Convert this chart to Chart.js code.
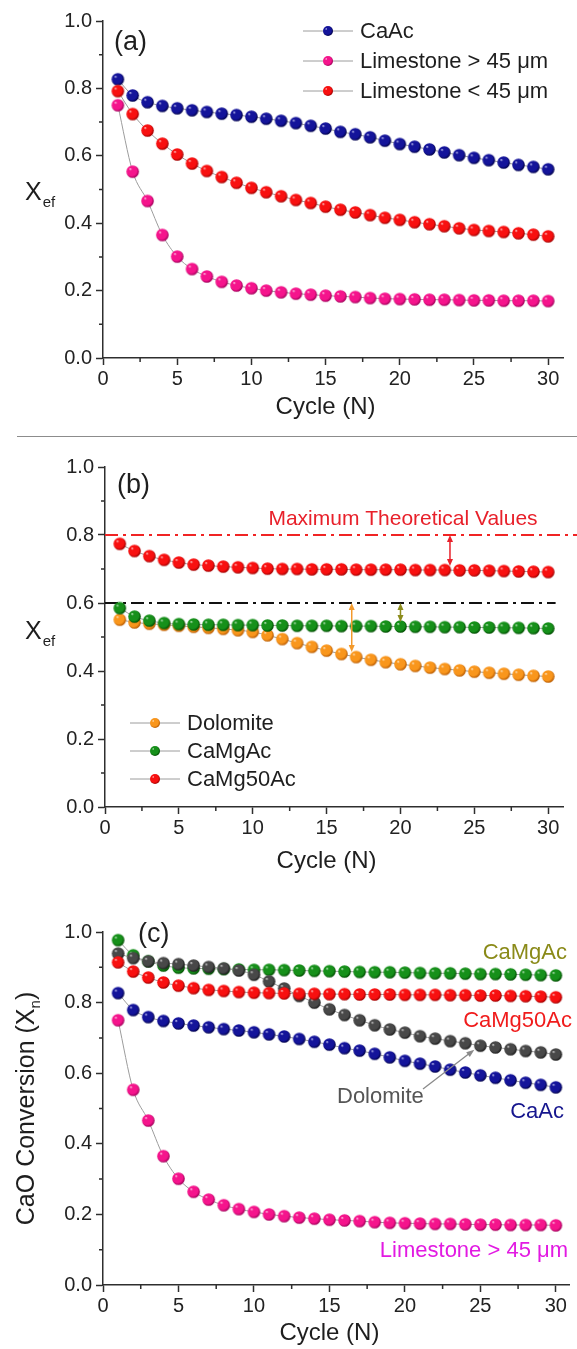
<!DOCTYPE html>
<html lang="en">
<head>
<meta charset="UTF-8">
<title>CaO conversion vs cycle number</title>
<script src="https://cdn.jsdelivr.net/npm/chart.js"></script>
<style>
  body { margin: 0; background: #fff; }
  #page { position: relative; width: 577px; height: 1349px; overflow: hidden; }
  .panel { position: absolute; left: 0; width: 577px; }
  .sep { position: absolute; left: 17px; right: 0; top: 436px; border-top: 1.5px solid #8c8c8c; }
</style>
</head>
<body>
<div id="page">
  <div class="panel" style="top:0;height:436px"><canvas id="chartA"></canvas></div>
  <div class="sep"></div>
  <div class="panel" style="top:437px;height:450px"><canvas id="chartB"></canvas></div>
  <div class="panel" style="top:887px;height:462px"><canvas id="chartC"></canvas></div>
</div>

<script>
// ---- data ----
const cycles = [1, 2, 3, 4, 5, 6, 7, 8, 9, 10, 11, 12, 13, 14, 15,
                16, 17, 18, 19, 20, 21, 22, 23, 24, 25, 26, 27, 28, 29, 30];

// panel (a) and (c): same curves
const caAc = [0.827, 0.779, 0.759, 0.748, 0.741, 0.735, 0.730, 0.725, 0.721, 0.716,
              0.710, 0.704, 0.697, 0.689, 0.681, 0.671, 0.664, 0.655, 0.645, 0.635,
              0.627, 0.619, 0.610, 0.602, 0.594, 0.587, 0.580, 0.573, 0.567, 0.560];
const limestoneCoarse = [0.750, 0.553, 0.466, 0.365, 0.301, 0.264, 0.242, 0.226, 0.215, 0.207,
                         0.200, 0.195, 0.191, 0.188, 0.185, 0.183, 0.181, 0.178, 0.176, 0.175,
                         0.174, 0.173, 0.173, 0.172, 0.171, 0.171, 0.170, 0.170, 0.170, 0.169];
const limestoneFine = [0.792, 0.724, 0.675, 0.636, 0.604, 0.577, 0.555, 0.537, 0.520, 0.505,
                       0.492, 0.480, 0.469, 0.460, 0.449, 0.440, 0.432, 0.424, 0.416, 0.410,
                       0.403, 0.397, 0.391, 0.385, 0.380, 0.377, 0.374, 0.370, 0.366, 0.361];

// panel (b): effective conversion Xef
const dolomiteEf = [0.551, 0.543, 0.539, 0.536, 0.533, 0.530, 0.527, 0.524, 0.520, 0.515,
                    0.505, 0.494, 0.482, 0.471, 0.460, 0.450, 0.441, 0.433, 0.426, 0.420,
                    0.415, 0.410, 0.406, 0.402, 0.398, 0.395, 0.392, 0.389, 0.386, 0.384];
const caMgAcEf = [0.585, 0.560, 0.548, 0.541, 0.538, 0.537, 0.536, 0.536, 0.535, 0.535,
                  0.534, 0.534, 0.533, 0.533, 0.533, 0.532, 0.532, 0.532, 0.531, 0.531,
                  0.530, 0.530, 0.529, 0.529, 0.528, 0.528, 0.527, 0.527, 0.526, 0.525];
const caMg50AcEf = [0.774, 0.753, 0.738, 0.727, 0.719, 0.713, 0.710, 0.707, 0.705, 0.703,
                    0.701, 0.700, 0.700, 0.699, 0.699, 0.699, 0.698, 0.698, 0.698, 0.698,
                    0.697, 0.697, 0.697, 0.696, 0.696, 0.695, 0.694, 0.693, 0.692, 0.691];
const theoreticalMax = [0.8, 0.6];          // CaMg50Ac, CaMgAc/dolomite
const theoreticalSpan = [[0, 32], [0, 30.5]];
// double arrows: cycle position, upper value, lower value
const gapArrowX = [23.35, 16.7, 20.0];
const gapArrowTop = [0.8, 0.6, 0.6];
const gapArrowBottom = [0.709, 0.456, 0.544];

// panel (c): CaO conversion Xn
const dolomiteXn = [0.939, 0.926, 0.917, 0.912, 0.909, 0.905, 0.901, 0.897, 0.891, 0.879,
                    0.860, 0.840, 0.819, 0.800, 0.781, 0.765, 0.750, 0.736, 0.724, 0.715,
                    0.705, 0.698, 0.691, 0.685, 0.678, 0.673, 0.668, 0.663, 0.659, 0.653];
const caMgAcXn = [0.977, 0.934, 0.917, 0.905, 0.899, 0.897, 0.896, 0.895, 0.894, 0.893,
                  0.893, 0.892, 0.891, 0.890, 0.889, 0.888, 0.887, 0.886, 0.886, 0.885,
                  0.884, 0.883, 0.883, 0.882, 0.881, 0.881, 0.880, 0.879, 0.878, 0.877];
const caMg50AcXn = [0.914, 0.888, 0.871, 0.857, 0.848, 0.841, 0.836, 0.833, 0.830, 0.828,
                    0.827, 0.826, 0.825, 0.825, 0.824, 0.824, 0.823, 0.823, 0.823, 0.822,
                    0.822, 0.822, 0.821, 0.821, 0.820, 0.820, 0.819, 0.818, 0.817, 0.815];

const xTicks = [0, 5, 10, 15, 20, 25, 30];
const xMinorTicks = [2.5, 7.5, 12.5, 17.5, 22.5, 27.5];
const yTicks = [0, 0.2, 0.4, 0.6, 0.8, 1.0];
const yMinorTicks = [0.1, 0.3, 0.5, 0.7, 0.9];

// ---- styling ----
const FONT = '"Liberation Sans", Arial, sans-serif';
Chart.defaults.font.family = FONT;
const AXIS = '#2e2e2e';

// shaded sphere used as point style
function makeBall(light, base, dark, r) {
  const c = document.createElement('canvas');
  const s = Math.ceil(r * 2 + 2);
  c.width = s; c.height = s;
  const g = c.getContext('2d');
  const m = s / 2;
  const grad = g.createRadialGradient(m - r * 0.4, m - r * 0.45, 0, m - r * 0.1, m - r * 0.1, r * 1.1);
  grad.addColorStop(0, light);
  grad.addColorStop(0.22, base);
  grad.addColorStop(0.75, base);
  grad.addColorStop(1, dark);
  g.fillStyle = grad;
  g.beginPath();
  g.arc(m, m, r, 0, Math.PI * 2);
  g.fill();
  return c;
}

const palette = {
  navy:   ['#d8d8ff', '#14149a', '#00004a'],
  pink:   ['#ffe0f0', '#f5148c', '#a0005a'],
  red:    ['#ffe0e0', '#f81010', '#a00000'],
  orange: ['#fff0d8', '#f9961c', '#b85a00'],
  green:  ['#d8f4d8', '#16901a', '#004c00'],
  gray:   ['#e6e6e6', '#484848', '#1a1a1a']
};
const ball = {}, smallBall = {};
for (const k in palette) {
  ball[k] = makeBall(...palette[k], 6.3);
  smallBall[k] = makeBall(...palette[k], 5);
}

function series(label, values, b, order) {
  return {
    label: label,
    data: values.map((v, i) => ({ x: cycles[i], y: v })),
    pointStyle: b,
    pointRadius: 6.3,
    borderColor: '#9c9c9c',
    borderWidth: 1,
    cubicInterpolationMode: 'monotone',
    order: order,
    clip: false
  };
}

function baseOptions(p) {
  return {
    responsive: true,
    maintainAspectRatio: false,
    animation: false,
    layout: { padding: { left: 0, right: p.padRight, top: p.padTop, bottom: 0 } },
    plugins: { legend: { display: false }, tooltip: { enabled: false } },
    scales: {
      x: {
        type: 'linear', min: 0, max: p.xMax,
        afterFit: s => { s.height = p.xAxisH; },
        afterBuildTicks: s => { s.ticks = xTicks.map(v => ({ value: v })); },
        ticks: { color: '#222', font: { size: 20 }, padding: 2, maxRotation: 0, callback: v => String(v) },
        grid: { drawOnChartArea: false, drawTicks: true, tickLength: 7, tickColor: AXIS, tickWidth: 1.5 },
        border: { color: AXIS, width: 1.5 }
      },
      y: {
        min: 0, max: 1,
        afterFit: s => { s.width = p.yAxisW; },
        afterBuildTicks: s => { s.ticks = yTicks.map(v => ({ value: v })); },
        ticks: { color: '#222', font: { size: 20 }, padding: 4, callback: v => v.toFixed(1) },
        grid: { drawOnChartArea: false, drawTicks: true, tickLength: 7, tickColor: AXIS, tickWidth: 1.5 },
        border: { color: AXIS, width: 1.5 }
      }
    }
  };
}

// minor ticks, axis titles, panel letter
function decorPlugin(p) {
  return {
    id: 'decor',
    afterDraw(chart) {
      const ctx = chart.ctx, xs = chart.scales.x, ys = chart.scales.y, a = chart.chartArea;
      ctx.save();
      ctx.strokeStyle = AXIS; ctx.lineWidth = 1.5;
      ctx.beginPath();
      xMinorTicks.forEach(v => { const px = xs.getPixelForValue(v); ctx.moveTo(px, a.bottom); ctx.lineTo(px, a.bottom + 4); });
      yMinorTicks.forEach(v => { const py = ys.getPixelForValue(v); ctx.moveTo(a.left, py); ctx.lineTo(a.left - 4, py); });
      ctx.stroke();

      ctx.fillStyle = '#1e1e1e';
      ctx.textAlign = 'center'; ctx.textBaseline = 'middle';
      ctx.font = '24px ' + FONT;
      ctx.fillText('Cycle (N)', xs.getPixelForValue(15), a.bottom + p.xTitleOff);

      ctx.textAlign = 'left'; ctx.textBaseline = 'alphabetic';
      ctx.font = '27px ' + FONT;
      ctx.fillText(p.letter, p.letterX, p.letterY);

      if (p.yTitle === 'ef') {
        ctx.font = '25px ' + FONT;
        ctx.fillText('X', 25, p.yTitleBase);
        const w = ctx.measureText('X').width;
        ctx.font = '15px ' + FONT;
        ctx.fillText('ef', 25 + w + 1, p.yTitleBase + 7);
      } else {
        ctx.translate(25, (a.top + a.bottom) / 2);
        ctx.rotate(-Math.PI / 2);
        ctx.font = '25px ' + FONT;
        const t1 = 'CaO Conversion (X', t3 = ')';
        const w1 = ctx.measureText(t1).width, w3 = ctx.measureText(t3).width;
        ctx.font = '15px ' + FONT;
        const w2 = ctx.measureText('n').width;
        const x0 = -(w1 + w2 + w3) / 2;
        const base = 9;
        ctx.font = '25px ' + FONT;
        ctx.fillText(t1, x0, base);
        ctx.font = '15px ' + FONT;
        ctx.fillText('n', x0 + w1, base + 6);
        ctx.font = '25px ' + FONT;
        ctx.fillText(t3, x0 + w1 + w2, base);
      }
      ctx.restore();
    }
  };
}

function legendPlugin(items, x0, rowsY) {
  return {
    id: 'legendBox',
    afterDraw(chart) {
      const ctx = chart.ctx;
      ctx.save();
      items.forEach((it, i) => {
        const y = rowsY[i];
        ctx.strokeStyle = '#9c9c9c'; ctx.lineWidth = 1;
        ctx.beginPath(); ctx.moveTo(x0, y); ctx.lineTo(x0 + 50, y); ctx.stroke();
        ctx.drawImage(it.ball, x0 + 25 - it.ball.width / 2, y - it.ball.height / 2);
        ctx.fillStyle = '#1e1e1e';
        ctx.font = '22px ' + FONT;
        ctx.textAlign = 'left'; ctx.textBaseline = 'middle';
        ctx.fillText(it.label, x0 + 57, y + 1);
      });
      ctx.restore();
    }
  };
}

// ---- panel (a) ----
const pA = { padTop: 21, xAxisH: 78, yAxisW: 103, padRight: 14, xMax: 31,
             xTitleOff: 49, letter: '(a)', letterX: 114, letterY: 50, yTitle: 'ef', yTitleBase: 200 };
new Chart(document.getElementById('chartA'), {
  type: 'line',
  data: { datasets: [
    series('CaAc', caAc, ball.navy, 2),
    series('Limestone > 45 \u03bcm', limestoneCoarse, ball.pink, 3),
    series('Limestone < 45 \u03bcm', limestoneFine, ball.red, 1)
  ] },
  options: baseOptions(pA),
  plugins: [decorPlugin(pA), legendPlugin([
    { label: 'CaAc', ball: smallBall.navy },
    { label: 'Limestone > 45 \u03bcm', ball: smallBall.pink },
    { label: 'Limestone < 45 \u03bcm', ball: smallBall.red }
  ], 303, [31, 61, 91])]
});

// ---- panel (b) ----
const pB = { padTop: 30, xAxisH: 80, yAxisW: 105, padRight: 14, xMax: 31,
             xTitleOff: 54, letter: '(b)', letterX: 117, letterY: 56, yTitle: 'ef', yTitleBase: 202 };

const gapArrows = {
  id: 'gapArrows',
  afterDatasetsDraw(chart) {
    const ctx = chart.ctx, xs = chart.scales.x, ys = chart.scales.y;
    const colors = ['#e8202a', '#f39a2c', '#8c8c1c'];
    ctx.save();
    gapArrowX.forEach((xv, i) => {
      const px = xs.getPixelForValue(xv);
      const y1 = ys.getPixelForValue(gapArrowTop[i]), y2 = ys.getPixelForValue(gapArrowBottom[i]);
      ctx.strokeStyle = colors[i]; ctx.fillStyle = colors[i]; ctx.lineWidth = 1.5;
      ctx.beginPath(); ctx.moveTo(px, y1 + 5); ctx.lineTo(px, y2 - 5); ctx.stroke();
      ctx.beginPath(); ctx.moveTo(px, y1); ctx.lineTo(px - 3, y1 + 7); ctx.lineTo(px + 3, y1 + 7); ctx.closePath(); ctx.fill();
      ctx.beginPath(); ctx.moveTo(px, y2); ctx.lineTo(px - 3, y2 - 7); ctx.lineTo(px + 3, y2 - 7); ctx.closePath(); ctx.fill();
    });
    ctx.fillStyle = '#e8202a';
    ctx.font = '21px ' + FONT;
    ctx.textAlign = 'center'; ctx.textBaseline = 'middle';
    ctx.fillText('Maximum Theoretical Values', 403, ys.getPixelForValue(theoreticalMax[0]) - 16);
    ctx.restore();
  }
};

function refLine(value, span, color) {
  return {
    label: 'ref', data: [{ x: span[0], y: value }, { x: span[1], y: value }],
    borderColor: color, borderWidth: 2, borderDash: [13, 5, 3, 5],
    pointRadius: 0, order: 10, clip: false
  };
}

new Chart(document.getElementById('chartB'), {
  type: 'line',
  data: { datasets: [
    refLine(theoreticalMax[0], theoreticalSpan[0], '#f02424'),
    refLine(theoreticalMax[1], theoreticalSpan[1], '#111111'),
    series('Dolomite', dolomiteEf, ball.orange, 3),
    series('CaMgAc', caMgAcEf, ball.green, 2),
    series('CaMg50Ac', caMg50AcEf, ball.red, 1)
  ] },
  options: baseOptions(pB),
  plugins: [decorPlugin(pB), gapArrows, legendPlugin([
    { label: 'Dolomite', ball: smallBall.orange },
    { label: 'CaMgAc', ball: smallBall.green },
    { label: 'CaMg50Ac', ball: smallBall.red }
  ], 130, [286, 314, 342])]
});

// ---- panel (c) ----
const pC = { padTop: 45, xAxisH: 64, yAxisW: 103, padRight: 0, xMax: 30.92,
             xTitleOff: 48, letter: '(c)', letterX: 138, letterY: 55, yTitle: 'n' };

const seriesLabels = {
  id: 'seriesLabels',
  afterDraw(chart) {
    const ctx = chart.ctx, xs = chart.scales.x, ys = chart.scales.y;
    ctx.save();
    ctx.font = '22px ' + FONT;
    ctx.textBaseline = 'middle';
    const put = (t, x, y, c, align) => { ctx.fillStyle = c; ctx.textAlign = align; ctx.fillText(t, x, y); };
    put('CaMgAc', 567, 66, '#8a8a18', 'right');
    put('CaMg50Ac', 572, 134, '#f01c1c', 'right');
    put('Dolomite', 337, 210, '#555555', 'left');
    put('CaAc', 564, 225, '#16168e', 'right');
    put('Limestone > 45 \u03bcm', 568, 364, '#e21ae2', 'right');
    // pointer from the Dolomite label to its curve
    const tx = xs.getPixelForValue(cycles[24]) - 6, ty = ys.getPixelForValue(dolomiteXn[24]) + 4;
    const sx = 423, sy = 202;
    const ang = Math.atan2(ty - sy, tx - sx);
    ctx.strokeStyle = '#8a8a8a'; ctx.fillStyle = '#8a8a8a'; ctx.lineWidth = 1.3;
    ctx.beginPath(); ctx.moveTo(sx, sy); ctx.lineTo(tx - 6 * Math.cos(ang), ty - 6 * Math.sin(ang)); ctx.stroke();
    ctx.beginPath();
    ctx.moveTo(tx, ty);
    ctx.lineTo(tx - 8 * Math.cos(ang) + 3 * Math.sin(ang), ty - 8 * Math.sin(ang) - 3 * Math.cos(ang));
    ctx.lineTo(tx - 8 * Math.cos(ang) - 3 * Math.sin(ang), ty - 8 * Math.sin(ang) + 3 * Math.cos(ang));
    ctx.closePath(); ctx.fill();
    ctx.restore();
  }
};

new Chart(document.getElementById('chartC'), {
  type: 'line',
  data: { datasets: [
    series('Limestone > 45 \u03bcm', limestoneCoarse, ball.pink, 1),
    series('CaAc', caAc, ball.navy, 2),
    series('CaMg50Ac', caMg50AcXn, ball.red, 3),
    series('Dolomite', dolomiteXn, ball.gray, 4),
    series('CaMgAc', caMgAcXn, ball.green, 5)
  ] },
  options: baseOptions(pC),
  plugins: [decorPlugin(pC), seriesLabels]
});
</script>
</body>
</html>
